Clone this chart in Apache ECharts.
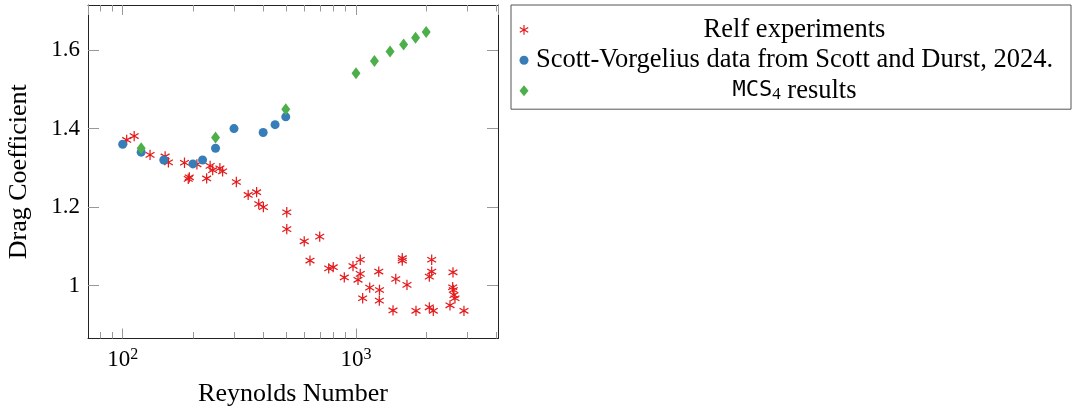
<!DOCTYPE html>
<html>
<head>
<meta charset="utf-8">
<script src="https://cdn.jsdelivr.net/npm/echarts@6/dist/echarts.min.js"></script>
<style>
html,body{margin:0;padding:0;background:#fff;}
#chart{width:1073px;height:409px;}
</style>
</head>
<body>
<div id="chart"></div>
<script>
// ---- data ----
const relfRe = [104,112,131,152,157,184,193,191,208,229,237,243,261,268,307,345,375,383,401,505,505,600,699,635,764,799,891,971,1043,1043,1020,1068,1145,1261,1259,1252,1441,1481,1579,1579,1654,1808,2062,2145,2111,2111,2062,2529,2605,2597,2613,2631,2657,2903];
const relfCd = [1.371,1.381,1.333,1.329,1.314,1.313,1.276,1.272,1.309,1.273,1.305,1.294,1.299,1.291,1.264,1.231,1.238,1.208,1.200,1.187,1.144,1.113,1.125,1.064,1.044,1.047,1.021,1.050,1.066,1.030,1.015,0.968,0.995,0.989,0.962,1.036,0.937,1.017,1.070,1.064,1.002,0.936,0.945,0.936,1.066,1.036,1.023,0.950,1.034,0.996,0.989,0.976,0.968,0.936];
const svRe = [100,120,150,200,220,250,300,400,450,500];
const svCd = [1.36,1.34,1.32,1.31,1.32,1.35,1.40,1.39,1.41,1.43];
const mcsRe = [120,250,500,1000,1200,1400,1600,1800,2000];
const mcsCd = [1.35,1.377,1.449,1.541,1.572,1.596,1.614,1.631,1.646];
const seriesNames = ['Relf experiments','Scott-Vorgelius data from Scott and Durst, 2024.','MCS4 results'];
const yTickValues = [1, 1.2, 1.4, 1.6];
const xMinorTickValues = [80,90,200,300,400,500,600,700,800,900,2000,3000,4000];
const xMin = 71.0, xMax = 4062;
const yMin = 0.8655, yMax = 1.7147;

const zip = (a, b) => a.map((v, i) => [v, b[i]]);

const SERIF = 'Liberation Serif';
const ASTERISK = 'path://M-0.12,-1L0.12,-1L0.12,1L-0.12,1Z' +
  'M-0.926,-0.3961L-0.806,-0.6039L0.926,0.3961L0.806,0.6039Z' +
  'M-0.806,0.6039L-0.926,0.3961L0.806,-0.6039L0.926,-0.3961Z';

const frameLine = {show: true, onZero: false, lineStyle: {color: '#222', width: 1}};
const TICK_COLOR = '#999';
const tickStyle = {color: TICK_COLOR, width: 1};
const MINOR_LEN = 6.5;

const chart = echarts.init(document.getElementById('chart'), null, {renderer: 'canvas'});

const logAxis = (pos, withLabels) => ({
  gridIndex: 0, type: 'log', logBase: 10, position: pos, min: xMin, max: xMax,
  axisLine: frameLine,
  axisTick: {show: true, inside: true, length: 10, lineStyle: tickStyle},
  splitLine: {show: false},
  axisLabel: withLabels ? {
    show: true, margin: 8, showMinLabel: false, showMaxLabel: false,
    formatter: v => '{b|10}{e|' + Math.round(Math.log10(v)) + '}',
    rich: {
      b: {fontFamily: SERIF, fontSize: 23, color: '#000', lineHeight: 26},
      e: {fontFamily: SERIF, fontSize: 16, color: '#000', lineHeight: 16, verticalAlign: 'top'}
    }
  } : {show: false}
});

const xBottom = Object.assign(logAxis('bottom', true), {
  name: 'Reynolds Number', nameLocation: 'middle', nameGap: 41, nameMoveOverlap: false,
  nameTextStyle: {fontFamily: SERIF, fontSize: 26, color: '#000', lineHeight: 30}
});

const option = {
  animation: false,
  backgroundColor: '#fff',
  grid: {left: 88, top: 5, width: 410, height: 333.5, outerBoundsMode: 'none', containLabel: false},
  xAxis: [xBottom, logAxis('top', false)],
  yAxis: [
    {
      gridIndex: 0, type: 'value', position: 'left', min: yMin, max: yMax,
      axisLine: frameLine,
      axisTick: {show: true, inside: true, length: 11, lineStyle: tickStyle, customValues: yTickValues},
      splitLine: {show: false},
      axisLabel: {
        show: true, margin: 8, customValues: yTickValues,
        formatter: v => String(+(+v).toFixed(1)),
        fontFamily: SERIF, fontSize: 23, color: '#000'
      },
      name: 'Drag Coefficient', nameLocation: 'middle', nameGap: 54, nameMoveOverlap: false,
      nameTextStyle: {fontFamily: SERIF, fontSize: 26, color: '#000', lineHeight: 30}
    },
    {
      gridIndex: 0, type: 'value', position: 'right', min: yMin, max: yMax,
      axisLine: frameLine,
      axisTick: {show: true, inside: true, length: 11, lineStyle: tickStyle, customValues: yTickValues},
      splitLine: {show: false}, axisLabel: {show: false}
    }
  ],
  legend: {
    orient: 'vertical', left: 511, top: 5,
    padding: [11.4, 15.5, 5, 8.5],
    itemWidth: 9, itemHeight: 11, itemGap: 3.4,
    borderColor: '#555', borderWidth: 1, backgroundColor: '#fff',
    selectedMode: false,
    data: seriesNames,
    formatter: name => {
      if (name === seriesNames[2]) return '{m|MCS}{s|4}{t| results}';
      return '{t|' + name + '}';
    },
    textStyle: {
      width: 522, lineHeight: 24,
      rich: {
        t: {fontFamily: SERIF, fontSize: 26.5, color: '#000', lineHeight: 24, align: 'center'},
        m: {fontFamily: 'DejaVu Sans Mono', fontSize: 22, color: '#000', lineHeight: 24, align: 'center'},
        s: {fontFamily: SERIF, fontSize: 17, color: '#000', lineHeight: 14, align: 'center', verticalAlign: 'bottom'}
      }
    }
  },
  series: [
    {
      name: seriesNames[0], type: 'scatter', xAxisIndex: 0, yAxisIndex: 0,
      symbol: ASTERISK, symbolSize: [9.5, 10.3],
      itemStyle: {color: '#e41a1c', opacity: 1},
      data: zip(relfRe, relfCd), z: 2
    },
    {
      name: seriesNames[1], type: 'scatter', xAxisIndex: 0, yAxisIndex: 0,
      symbol: 'circle', symbolSize: 9,
      itemStyle: {color: '#377eb8', opacity: 1},
      data: zip(svRe, svCd), z: 3
    },
    {
      name: seriesNames[2], type: 'scatter', xAxisIndex: 0, yAxisIndex: 0,
      symbol: 'diamond', symbolSize: [9, 12],
      itemStyle: {color: '#4daf4a', opacity: 1},
      data: zip(mcsRe, mcsCd), z: 4
    }
  ]
};
chart.setOption(option);

// Minor log ticks (bottom and top), positioned through the log axis scale.
const yBottomPx = chart.convertToPixel({yAxisIndex: 0}, yMin);
const yTopPx = chart.convertToPixel({yAxisIndex: 0}, yMax);
const minorTickEls = [];
xMinorTickValues.forEach(v => {
  const x = Math.round(chart.convertToPixel({xAxisIndex: 0}, v)) + 0.5;
  minorTickEls.push({type: 'line', silent: true, z: 1,
    shape: {x1: x, y1: yBottomPx, x2: x, y2: yBottomPx - MINOR_LEN},
    style: {stroke: TICK_COLOR, lineWidth: 1}});
  minorTickEls.push({type: 'line', silent: true, z: 1,
    shape: {x1: x, y1: yTopPx, x2: x, y2: yTopPx + MINOR_LEN},
    style: {stroke: TICK_COLOR, lineWidth: 1}});
});
chart.setOption({graphic: minorTickEls});
</script>
</body>
</html>
